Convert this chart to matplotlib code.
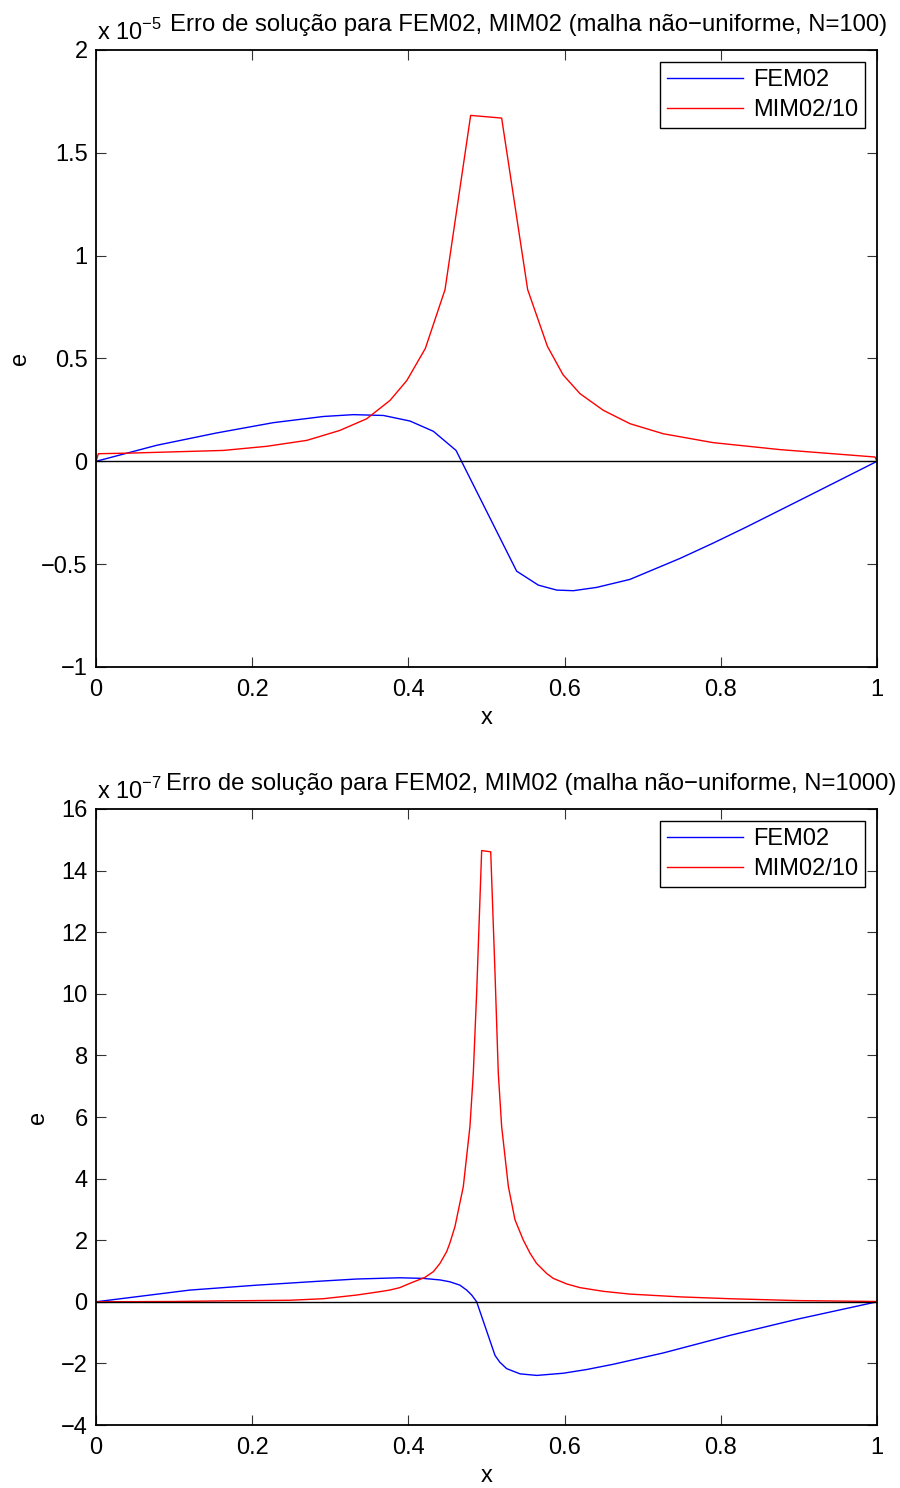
import matplotlib
matplotlib.use("Agg")
import matplotlib.pyplot as plt
import numpy as np

plt.rcParams['font.family'] = ['Liberation Sans', 'DejaVu Sans']
plt.rcParams['mathtext.fontset'] = 'custom'
plt.rcParams['mathtext.rm'] = 'Liberation Sans'
plt.rcParams['axes.unicode_minus'] = True

# ---------------- data (values in units of the axis multiplier) ----------------
# Top: N=100, values x 1e-5
x_fem_100 = [0, 0.0777, 0.1545, 0.227, 0.291, 0.3295, 0.368, 0.402, 0.432, 0.461,
             0.5386, 0.5664, 0.5899, 0.6112, 0.641, 0.6837, 0.7478, 0.79, 0.833, 0.918, 1.0]
e_fem_100 = [0, 0.078, 0.138, 0.188, 0.218, 0.227, 0.223, 0.196, 0.146, 0.053,
             -0.534, -0.602, -0.626, -0.629, -0.613, -0.574, -0.472, -0.398, -0.319, -0.157, 0]

x_mim_100 = [0, 0.003, 0.0435, 0.163, 0.2185, 0.27, 0.312, 0.3466, 0.3764, 0.398,
             0.4217, 0.4469, 0.4797, 0.5194, 0.5527, 0.578, 0.598, 0.6197, 0.6496,
             0.6837, 0.7264, 0.790, 0.8758, 0.9974, 1.0]
e_mim_100 = [0, 0.037, 0.040, 0.053, 0.073, 0.102, 0.150, 0.207, 0.296, 0.393,
             0.549, 0.835, 1.682, 1.669, 0.835, 0.559, 0.421, 0.329, 0.248,
             0.183, 0.134, 0.091, 0.057, 0.021, 0]

# Bottom: N=1000, values x 1e-7
x_fem_1000 = [0, 0.120, 0.2057, 0.287, 0.334, 0.389, 0.419, 0.4405, 0.453, 0.466,
              0.4746, 0.481, 0.4874, 0.5109, 0.517, 0.5258, 0.543, 0.5643, 0.598,
              0.628, 0.662, 0.7264, 0.8118, 0.897, 1.0]
e_fem_1000 = [0, 0.38, 0.54, 0.67, 0.74, 0.78, 0.76, 0.71, 0.65, 0.54,
              0.38, 0.22, 0, -1.74, -1.96, -2.17, -2.34, -2.39, -2.32,
              -2.20, -2.03, -1.66, -1.09, -0.57, 0]

x_mim_1000 = [0, 0.1, 0.163, 0.248, 0.291, 0.334, 0.3636, 0.376, 0.389, 0.402,
              0.421, 0.432, 0.4405, 0.449, 0.453, 0.4596, 0.4703, 0.4788, 0.4831,
              0.4875, 0.4938, 0.5054, 0.5109, 0.5151, 0.5194, 0.528, 0.5365,
              0.547, 0.5557, 0.564, 0.577, 0.5855, 0.6027, 0.6197, 0.6496,
              0.6837, 0.7478, 0.8118, 0.897, 1.0]
e_mim_1000 = [0, 0.01, 0.03, 0.05, 0.10, 0.22, 0.33, 0.38, 0.46, 0.60,
              0.79, 0.98, 1.25, 1.63, 1.90, 2.44, 3.74, 5.69, 7.42,
              10.1, 14.65, 14.61, 10.67, 7.42, 5.69, 3.74, 2.66,
              2.01, 1.58, 1.25, 0.92, 0.76, 0.58, 0.46, 0.34,
              0.25, 0.16, 0.10, 0.04, 0.01]

x_ticks = [0, 0.2, 0.4, 0.6, 0.8, 1.0]
x_ticklabels = ["0", "0.2", "0.4", "0.6", "0.8", "1"]
y_ticks_top = [-1, -0.5, 0, 0.5, 1, 1.5, 2]
y_ticklabels_top = ["\u22121", "\u22120.5", "0", "0.5", "1", "1.5", "2"]
y_ticks_bot = [-4, -2, 0, 2, 4, 6, 8, 10, 12, 14, 16]
y_ticklabels_bot = ["\u22124", "\u22122", "0", "2", "4", "6", "8", "10", "12", "14", "16"]

titles = ["Erro de solu\u00e7\u00e3o para FEM02, MIM02 (malha n\u00e3o\u2212uniforme, N=100)",
          "Erro de solu\u00e7\u00e3o para FEM02, MIM02 (malha n\u00e3o\u2212uniforme, N=1000)"]
exponents = ["5", "7"]
series_labels = ["FEM02", "MIM02/10"]

FS = 17

fig = plt.figure(figsize=(9, 14.88), dpi=100)
ax1 = fig.add_axes([96/900, 1-667/1488, 781/900, 617/1488])
ax2 = fig.add_axes([96/900, 1-1425/1488, 781/900, 616/1488])

panels = [
    (ax1, x_fem_100, e_fem_100, x_mim_100, e_mim_100, y_ticks_top, y_ticklabels_top, (-1, 2), 20, 53.0),
    (ax2, x_fem_1000, e_fem_1000, x_mim_1000, e_mim_1000, y_ticks_bot, y_ticklabels_bot, (-4, 16), 38, 50.5),
]

for i, (ax, xf, ef, xm, em, yt, ytl, ylim, ylab_px, title_dx) in enumerate(panels):
    ax.plot(xf, ef, color='#0000ff', lw=1.0, label=series_labels[0])
    ax.plot(xm, em, color='#ff0000', lw=1.0, label=series_labels[1])
    ax.plot([0, 1], [0, 0], color='black', lw=1.0)
    ax.set_xlim(0, 1)
    ax.set_ylim(*ylim)
    ax.set_xticks(x_ticks)
    ax.set_xticklabels(x_ticklabels)
    ax.set_yticks(yt)
    ax.set_yticklabels(ytl)
    ax.tick_params(direction='in', length=7, width=0.8, top=True, right=True,
                   labelsize=FS, color='#333333')
    ax.tick_params(axis='x', pad=9)
    ax.tick_params(axis='y', pad=6)
    for s in ax.spines.values():
        s.set_linewidth(1.3)
    ax.set_xlabel("x", fontsize=FS)
    ax.xaxis.set_label_coords(0.5, -51/617)
    ax.xaxis.label.set_va('center')
    ax.set_ylabel("e", fontsize=FS)
    ax.yaxis.set_label_coords((ylab_px - 96)/781, 0.5)
    ax.yaxis.label.set_va('center')
    handles, labels = ax.get_legend_handles_labels()
    leg = ax.legend(handles[:2], labels[:2], loc='upper right',
                    bbox_to_anchor=(0.9846, 0.9805), borderaxespad=0,
                    fontsize=FS, handlelength=3.2, handletextpad=0.42,
                    labelspacing=0.34, borderpad=0.3, fancybox=False,
                    framealpha=1, edgecolor='black')
    leg.get_frame().set_linewidth(1.0)
    ax.annotate("x 10$^{\\mathregular{-" + exponents[i] + "}}$", xy=(0, 1),
                xycoords='axes fraction', xytext=(0.5, 7.2),
                textcoords='offset points', ha='left', va='baseline', fontsize=FS)
    ax.annotate(titles[i], xy=(0, 1), xycoords='axes fraction',
                xytext=(title_dx, 13.7), textcoords='offset points',
                ha='left', va='baseline', fontsize=17.2)

fig.savefig("out.png", dpi=100)
